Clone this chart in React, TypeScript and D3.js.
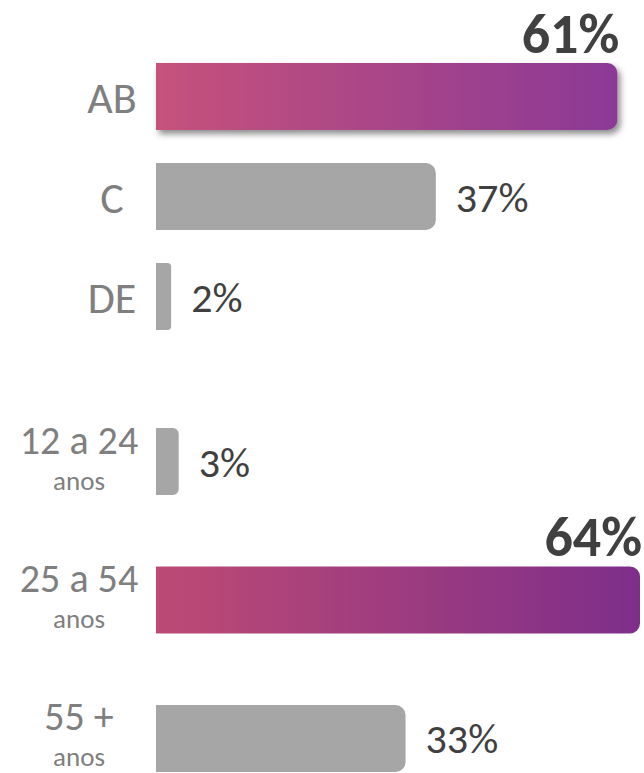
import React, { useEffect, useRef } from 'react'
import * as d3 from 'd3'

const WIDTH = 644
const HEIGHT = 773

const classLabels = ['AB', 'C', 'DE']
const classValues = [61, 37, 2]

const ageLabels = ['12 a 24', '25 a 54', '55 +']
const ageSubLabels = ['anos', 'anos', 'anos']
const ageValues = [3, 64, 33]

const FONT = 'Carlito, Calibri, Lato, sans-serif'
const BAR_X = 156

type Row = { label: string, sub?: string, value: number }

// bar with square left end and rounded right corners
const barPath = (x0: number, y0: number, w: number, h: number, rr: number) => {
  const r = Math.min(rr, w / 4, h / 2)
  return `M${x0},${y0}H${x0 + w - r}A${r},${r} 0 0 1 ${x0 + w},${y0 + r}` +
    `V${y0 + h - r}A${r},${r} 0 0 1 ${x0 + w - r},${y0 + h}H${x0}Z`
}

export default function App() {
  const ref = useRef<SVGSVGElement>(null)

  useEffect(() => {
    const svg = d3.select(ref.current)
    svg.selectAll('*').remove()

    const xScale = d3.scaleLinear().domain([0, 64]).range([0, 484])

    const defs = svg.append('defs')
    const grads = [
      { id: 'gradClass', from: '#c6527b', to: '#8b3996' },
      { id: 'gradAge', from: '#bd4a74', to: '#7e2e8a' },
    ]
    grads.forEach((g) => {
      const lg = defs.append('linearGradient').attr('id', g.id)
        .attr('x1', 0).attr('x2', 1).attr('y1', 0).attr('y2', 0)
      lg.append('stop').attr('offset', '0%').attr('stop-color', g.from)
      lg.append('stop').attr('offset', '100%').attr('stop-color', g.to)
    })
    defs.append('filter').attr('id', 'shadow')
      .attr('x', '-5%').attr('y', '-20%').attr('width', '115%').attr('height', '160%')
      .append('feDropShadow')
      .attr('dx', 3).attr('dy', 4).attr('stdDeviation', 3)
      .attr('flood-color', '#000').attr('flood-opacity', 0.45)

    const drawGroup = (rows: Row[], range: [number, number], padding: number,
      gradId: string, shadow: boolean) => {
      const yScale = d3.scaleBand()
        .domain(rows.map((d) => d.label))
        .range(range)
        .paddingInner(padding)
      const maxVal = d3.max(rows, (d) => d.value)
      const bh = yScale.bandwidth()

      const g = svg.append('g')
      const items = g.selectAll('g').data(rows).enter().append('g')

      items.append('path')
        .attr('d', (d) => barPath(BAR_X, yScale(d.label)!, xScale(d.value), bh, 10))
        .attr('fill', (d) => d.value === maxVal ? `url(#${gradId})` : '#a6a6a6')
        .attr('filter', (d) => d.value === maxVal && shadow ? 'url(#shadow)' : null)

      // category labels
      items.each(function (d) {
        const el = d3.select(this)
        const cy = yScale(d.label)! + bh / 2
        if (d.sub) {
          el.append('text').attr('x', 79).attr('y', cy - 8)
            .attr('text-anchor', 'middle').attr('font-size', 40)
            .attr('fill', '#7f7f7f').text(d.label)
          el.append('text').attr('x', 79).attr('y', cy + 28)
            .attr('text-anchor', 'middle').attr('font-size', 27)
            .attr('fill', '#7f7f7f').text(d.sub)
        } else {
          el.append('text').attr('x', 112).attr('y', cy + 16)
            .attr('text-anchor', 'middle').attr('font-size', 44)
            .attr('fill', '#7f7f7f').text(d.label)
        }
      })

      // value labels
      items.append('text')
        .attr('x', (d) => d.value === maxVal ? BAR_X + xScale(d.value) + 2 : BAR_X + xScale(d.value) + 20)
        .attr('y', (d) => d.value === maxVal ? yScale(d.label)! - 10 : yScale(d.label)! + bh / 2 + 15)
        .attr('text-anchor', (d) => d.value === maxVal ? 'end' : 'start')
        .attr('font-size', (d) => d.value === maxVal ? 56 : 42)
        .attr('font-weight', (d) => d.value === maxVal ? 'bold' : 'normal')
        .attr('fill', '#404040')
        .text((d) => `${d.value}%`)
    }

    drawGroup(classLabels.map((l, i) => ({ label: l, value: classValues[i] })),
      [63, 330], 0.33, 'gradClass', true)
    drawGroup(ageLabels.map((l, i) => ({ label: l, sub: ageSubLabels[i], value: ageValues[i] })),
      [428, 772], 0.516, 'gradAge', false)
  }, [])

  return (
    <svg ref={ref} width={WIDTH} height={HEIGHT}
      style={{ position: 'absolute', left: 0, top: 0, fontFamily: FONT, background: '#fff' }} />
  )
}
